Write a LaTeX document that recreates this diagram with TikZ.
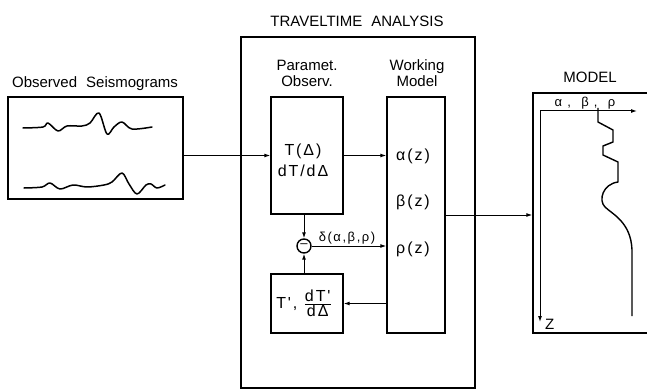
\documentclass[tikz,border=0pt]{standalone}
\usepackage{fontspec}
\setmainfont{Liberation Sans}
\newfontfamily\spaced[LetterSpace=12]{Liberation Sans}
\usetikzlibrary{arrows.meta,positioning}

\begin{document}
\begin{tikzpicture}[
  x=1pt, y=-1pt,
  block/.style={rectangle, draw, line width=1.4pt, inner sep=0pt},
  heading/.style={font=\fontsize{15}{16}\selectfont, align=center},
  eqn/.style={font=\spaced\fontsize{16}{21}\selectfont, align=center},
  small/.style={font=\spaced\fontsize{13}{14}\selectfont, inner sep=1pt},
  flow/.style={-{Latex[length=6pt,width=4pt]}, line width=1pt},
  trace/.style={line width=1.5pt, line cap=round, line join=round}
]
\useasboundingbox (0,0) rectangle (647,390);

% boxes
\node[block, minimum width=175pt, minimum height=102pt] (seis) at (95.5,148) {};
\node[block, minimum width=234pt, minimum height=351pt] (analysis) at (358,212.5) {};
\node[block, minimum width=72pt, minimum height=117pt] (param) at (307,155.5) {};
\node[block, minimum width=58pt, minimum height=236pt] (work) at (416,215) {};
\node[block, minimum width=72pt, minimum height=59pt] (synth) at (307,303.5) {};
\node[block, minimum width=127pt, minimum height=240pt] (model) at (596.5,213) {};
\node[circle, draw, line width=1.4pt, minimum size=14pt, inner sep=0pt,
      font=\fontsize{13}{13}\selectfont] (diff) at (304,246) {--};

% headings
\node[heading, anchor=base] (seistitle) at (95,88) {Observed\hspace{0.6em}Seismograms};
\node[heading, anchor=base] (antitle) at (357,27) {TRAVELTIME\hspace{0.6em}ANALYSIS};
\node[heading] (paramtitle) at (307,73) {Paramet.\\Observ.};
\node[heading] (worktitle) at (417,73) {Working\\Model};
\node[heading, anchor=base] (modeltitle) at (590,83) {MODEL};

% contents
\node[eqn] (obs) at (303,160) {T(Δ)\\dT/dΔ};
\node[eqn] (alpha) at (413,156) {α(z)};
\node[eqn] (beta) at (413,202) {β(z)};
\node[eqn] (rho) at (413,249) {ρ(z)};
\node[eqn] (calc) at (304,303) {T', $\frac{\hbox{dT'}}{\hbox{dΔ}}$};
\node[small, anchor=south] (delta) at (347,245) {δ(α,β,ρ)};

% connectors
\draw[flow] (seis.east |- param.west) -- (param.west);
\draw[flow] (param.east) -- (param.east -| work.west);
\draw[flow] (param.south -| diff) -- (diff.north);
\draw[flow] (synth.north -| diff) -- (diff.south);
\draw[flow] (diff.east) -- (diff -| work.west);
\draw[flow] (work.west |- synth.east) -- (synth.east);
\draw[flow] (work.east) -- (work.east -| model.west);

% seismograms
\draw[trace] plot[smooth, tension=0.55] coordinates {(23,128) (43,127) (48,123) (58,131)
  (67,126) (82,126) (90,123) (99,113) (107,134) (114,127) (122,122) (132,129) (152,127)};
\draw[trace] plot[smooth, tension=0.55] coordinates {(24,188) (42,187) (50,183) (60,189)
  (73,185) (87,187) (104,185) (112,182) (122,173) (129,184) (137,194) (146,185)
  (151,184) (157,188) (165,185)};

% model profile
\coordinate (origin) at (540,111);
\draw[flow] (origin) -- (637,111);
\draw[flow] (origin) -- (540,322);
\node[font=\fontsize{15}{15}\selectfont, anchor=west, inner sep=1pt] (zlabel) at (544,324) {Z};
\node[small] (params) at (585,103) {α ,\ \ β ,\ \ ρ};
\draw[line width=1.4pt, line join=round] (598,108) -- (598,122) -- (613,130) -- (613,142)
  -- (603,146) -- (603,155) -- (618,162) -- (618,182)
  .. controls (603,184) and (598,200) .. (605,207)
  .. controls (612,214) and (631,222) .. (632,250) -- (632,316);
\end{tikzpicture}
\end{document}
